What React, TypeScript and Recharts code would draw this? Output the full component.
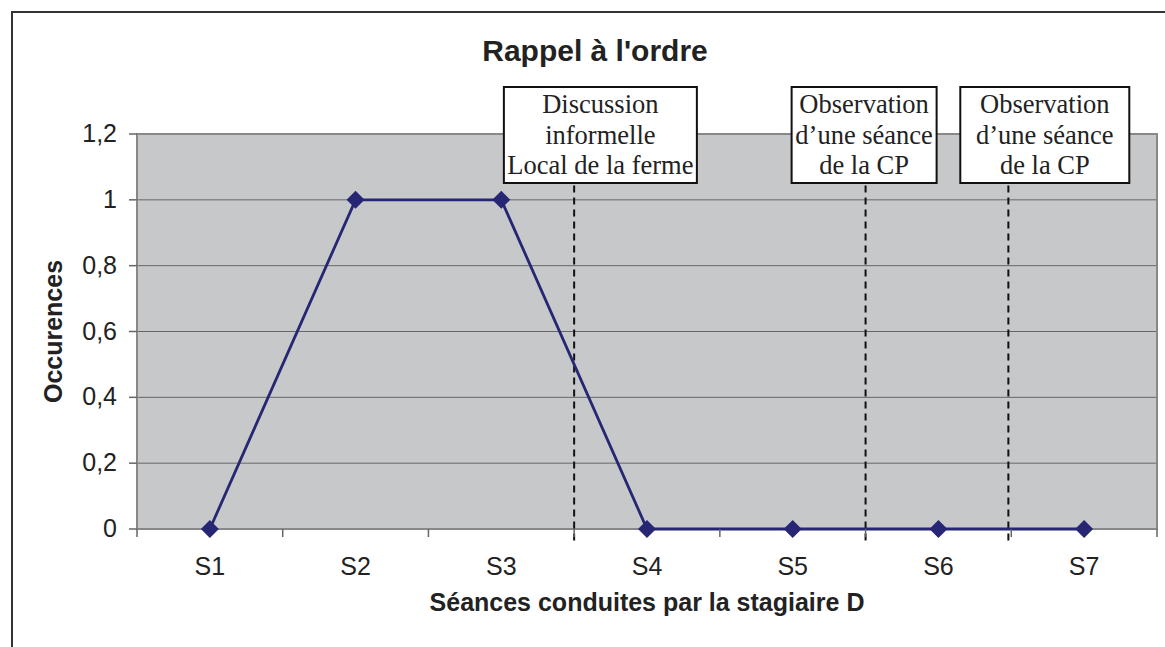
import React from 'react';
import { LineChart, Line, XAxis, YAxis, CartesianGrid, ReferenceLine, ReferenceDot, ReferenceArea } from 'recharts';

const categories = ['S1', 'S2', 'S3', 'S4', 'S5', 'S6', 'S7'];
const occurrences = [0, 1, 1, 0, 0, 0, 0];
const yTicks = [0, 0.2, 0.4, 0.6, 0.8, 1, 1.2];
const markerPositions = [3.5, 5.5, 6.48];
const annotationPositions = [3.68, 5.49, 6.73];
const annotationTexts = [
  ['Discussion', 'informelle', 'Local de la ferme'],
  ['Observation', 'd\u2019une séance', 'de la CP'],
  ['Observation', 'd\u2019une séance', 'de la CP'],
];
const chartTitle = "Rappel à l'ordre";
const xTitle = 'Séances conduites par la stagiaire D';
const yTitle = 'Occurences';

const boxWidths = [193, 145, 169];

const data = categories.map((c, i) => ({ x: i + 1, name: c, value: occurrences[i] }));
const xTickValues = [0.5, ...categories.flatMap((_, i) => [i + 1, i + 1.5])];

const SANS = '"Liberation Sans", Arial, sans-serif';
const SERIF = '"Liberation Serif", "Times New Roman", serif';
const NAVY = '#262674';

const XTick = (props: any) => {
  const { x, y, payload } = props;
  const v = payload.value;
  if (Number.isInteger(v)) {
    return (
      <text x={x} y={y + 46} textAnchor="middle" fontSize={25} fill="#222" fontFamily={SANS}>
        {categories[v - 1]}
      </text>
    );
  }
  return <line x1={x} x2={x} y1={y} y2={y + 8} stroke="#666" strokeWidth={1.5} />;
};

const YTick = (props: any) => {
  const { x, y, payload } = props;
  const label = String(Math.round(payload.value * 10) / 10).replace('.', ',');
  return (
    <text x={x} y={y + 8} textAnchor="end" fontSize={25} fill="#222" fontFamily={SANS}>
      {label}
    </text>
  );
};

const Diamond = (props: any) => {
  const { cx, cy } = props;
  if (cx == null || cy == null) return null;
  const r = 9;
  return <polygon points={`${cx},${cy - r} ${cx + r},${cy} ${cx},${cy + r} ${cx - r},${cy}`} fill={NAVY} />;
};

const makeBox = (idx: number) => (props: any) => {
  const { cx, cy } = props;
  const w = boxWidths[idx];
  const lines = annotationTexts[idx];
  return (
    <g>
      <rect x={cx - w / 2} y={cy - 47} width={w} height={96} fill="#fff" stroke="#111" strokeWidth={2} />
      {lines.map((t, i) => (
        <text key={i} x={cx} y={cy - 21 + i * 30.5} textAnchor="middle" fontSize={26.5} fill="#222" fontFamily={SERIF}>
          {t}
        </text>
      ))}
    </g>
  );
};

export default function App() {
  return (
    <div style={{ position: 'absolute', left: 0, top: 0, width: 1165, height: 647, overflow: 'hidden', background: '#fff' }}>
      <div style={{ position: 'absolute', left: 11, top: 11, width: 1300, height: 800, border: '2px solid #333', boxSizing: 'border-box' }} />
      <div style={{ position: 'absolute', left: 0, top: 0 }}>
        <LineChart width={1165} height={647} data={data} margin={{ top: 134, right: 8, bottom: 58, left: 77 }}>
          <CartesianGrid vertical={false} fill="#C7C8CA" stroke="#666" strokeWidth={1} />
          <ReferenceArea x1={0.5} x2={7.5} y1={0} y2={1.2} fill="none" stroke="#888" strokeWidth={2} ifOverflow="visible" />
          <XAxis
            dataKey="x"
            type="number"
            domain={[0.5, 7.5]}
            ticks={xTickValues}
            interval={0}
            tickLine={false}
            tickSize={0}
            tickMargin={0}
            tick={<XTick />}
            axisLine={false}
            height={60}
            label={{
              content: (p: any) => (
                <text x={p.viewBox.x + p.viewBox.width / 2} y={p.viewBox.y + 82} textAnchor="middle" fontSize={25} fontWeight="bold" fill="#222" fontFamily={SANS}>
                  {xTitle}
                </text>
              ),
            }}
          />
          <YAxis
            type="number"
            domain={[0, 1.2]}
            ticks={yTicks}
            interval={0}
            width={60}
            tickSize={8}
            tickMargin={12}
            tickLine={{ stroke: '#666', strokeWidth: 1.5 }}
            axisLine={false}
            tick={<YTick />}
            label={{
              content: (p: any) => {
                const cx = p.viewBox.x - 24;
                const cy = p.viewBox.y + p.viewBox.height / 2;
                return (
                  <text x={cx} y={cy} transform={`rotate(-90 ${cx} ${cy})`} textAnchor="middle" dominantBaseline="central" fontSize={25} fontWeight="bold" fill="#222" fontFamily={SANS}>
                    {yTitle}
                  </text>
                );
              },
            }}
          />
          {markerPositions.map((m, i) => (
            <ReferenceLine
              key={`m${i}`}
              segment={[{ x: m, y: -0.035 }, { x: m, y: 1.05 }]}
              stroke="#111"
              strokeWidth={2}
              strokeDasharray="7 5"
              ifOverflow="visible"
            />
          ))}
          <Line
            type="linear"
            dataKey="value"
            stroke={NAVY}
            strokeWidth={2.8}
            dot={<Diamond />}
            activeDot={false}
            isAnimationActive={false}
          />
          {annotationPositions.map((a, i) => (
            <ReferenceDot key={`a${i}`} x={a} y={1.2} r={0} shape={makeBox(i)} ifOverflow="visible" />
          ))}
          <text x={595} y={61} textAnchor="middle" fontSize={30} fontWeight="bold" fill="#222" fontFamily={SANS}>
            {chartTitle}
          </text>
        </LineChart>
      </div>
    </div>
  );
}
